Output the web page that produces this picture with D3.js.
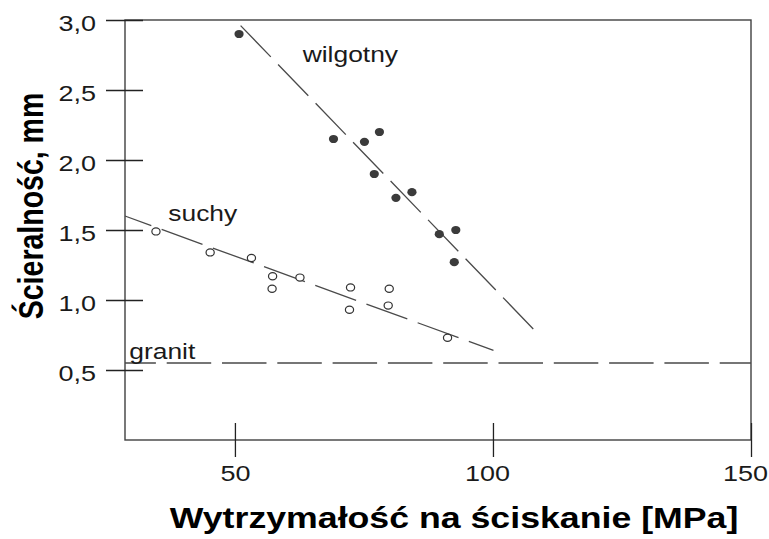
<!DOCTYPE html>
<html>
<head>
<meta charset="utf-8">
<script src="https://d3js.org/d3.v7.min.js"></script>
<style>
  body { margin: 0; background: #fff; }
  text { font-family: "Liberation Sans", Arial, sans-serif; fill: #1a1a1a; }
</style>
</head>
<body>
<div id="my_dataviz"></div>
<script>
// wet samples (filled dots)
var wet_x = [50.8, 69.1, 75.1, 78.0, 77.0, 81.2, 84.3, 89.6, 92.8, 92.5];
var wet_y = [2.90, 2.15, 2.13, 2.20, 1.90, 1.73, 1.77, 1.47, 1.50, 1.27];

// dry samples (open dots)
var dry_x = [34.7, 45.2, 53.2, 57.3, 57.2, 62.6, 72.4, 72.2, 79.9, 79.7, 91.2];
var dry_y = [1.49, 1.34, 1.30, 1.17, 1.08, 1.16, 1.09, 0.93, 1.08, 0.96, 0.73];

// trend lines
var wet_trend    = [[51.1, 2.96], [107.9, 0.79]];
var dry_trend    = [[28.7, 1.60], [100.1, 0.64]];
var granit_trend = [[28.7, 0.55], [150, 0.55]];

var x_ticks = [50, 100, 150];
var y_ticks = [0.5, 1.0, 1.5, 2.0, 2.5, 3.0];

var stretch = 1.2;   // the picture is a bit wider than tall

var svg = d3.select("#my_dataviz")
  .append("svg")
    .attr("width", 769)
    .attr("height", 539);

var x = d3.scaleLinear()
  .domain([28.7, 150])
  .range([125, 751]);

var y = d3.scaleLinear()
  .domain([0, 3])
  .range([440, 20]);

var fmt = d3.formatLocale({decimal: ",", thousands: " ", grouping: [3], currency: ["", ""]}).format(".1f");

// frame
svg.append("rect")
  .attr("x", x.range()[0])
  .attr("y", y.range()[1])
  .attr("width", x.range()[1] - x.range()[0])
  .attr("height", y.range()[0] - y.range()[1])
  .attr("fill", "none")
  .attr("stroke", "#404040")
  .attr("stroke-width", 1.4);

// Y axis
var yAxis = svg.append("g")
  .attr("transform", "translate(" + x.range()[0] + ",0)")
  .call(d3.axisLeft(y).tickValues(y_ticks).tickFormat(fmt).tickSize(19));
yAxis.select(".domain").remove();
yAxis.selectAll("line")
  .attr("x1", 18)
  .attr("stroke", "#222")
  .attr("stroke-width", 1.3);
yAxis.selectAll("text")
  .attr("x", null)
  .attr("dy", null)
  .attr("transform", "translate(-29,10.5) scale(" + stretch + ",1)")
  .style("font-size", "22.5px")
  .style("font-family", "'Liberation Sans', Arial, sans-serif")
  .attr("fill", "#1a1a1a");

// X axis
var xAxis = svg.append("g")
  .attr("transform", "translate(0," + y.range()[0] + ")")
  .call(d3.axisBottom(x).tickValues(x_ticks).tickFormat(d3.format("d")).tickSize(17));
xAxis.select(".domain").remove();
xAxis.selectAll("line")
  .attr("y1", -17)
  .attr("stroke", "#222")
  .attr("stroke-width", 1.3);
xAxis.selectAll("text")
  .attr("y", null)
  .attr("dy", null)
  .attr("transform", function(d) { return "translate(" + (d >= 100 ? -6 : 0) + ",41) scale(" + stretch + ",1)"; })
  .style("font-size", "22.5px")
  .style("font-family", "'Liberation Sans', Arial, sans-serif")
  .attr("fill", "#1a1a1a");

// dashed trend lines
var line = d3.line()
  .x(function(d) { return x(d[0]); })
  .y(function(d) { return y(d[1]); });

function trend(pts, dash, offset) {
  svg.append("path")
    .datum(pts)
    .attr("d", line)
    .attr("fill", "none")
    .attr("stroke", "#4a4a4a")
    .attr("stroke-width", 1.3)
    .attr("stroke-dasharray", dash)
    .attr("stroke-dashoffset", offset);
}
trend(wet_trend, "43.5,10.5", 0);
trend(dry_trend, "43.5,11", 15.5);
trend(granit_trend, "44.5,10.8", 13.6);

// points
svg.selectAll(".wet")
  .data(d3.zip(wet_x, wet_y))
  .enter()
  .append("ellipse")
    .attr("class", "wet")
    .attr("cx", function(d) { return x(d[0]); })
    .attr("cy", function(d) { return y(d[1]); })
    .attr("rx", 4.6)
    .attr("ry", 4.1)
    .attr("fill", "#3b3b3b");

svg.selectAll(".dry")
  .data(d3.zip(dry_x, dry_y))
  .enter()
  .append("ellipse")
    .attr("class", "dry")
    .attr("cx", function(d) { return x(d[0]); })
    .attr("cy", function(d) { return y(d[1]); })
    .attr("rx", 4.1)
    .attr("ry", 3.6)
    .attr("fill", "#fff")
    .attr("stroke", "#333")
    .attr("stroke-width", 1.2);

// series labels
function label(txt, px, py) {
  svg.append("text")
    .attr("transform", "translate(" + px + "," + py + ") scale(" + stretch + ",1)")
    .style("font-size", "22px")
    .text(txt);
}
label("wilgotny", 302.7, 62);
label("suchy", 168.3, 220.7);
label("granit", 129.3, 359);

// axis titles
svg.append("text")
  .attr("transform", "translate(454,528) scale(1.21,1)")
  .attr("text-anchor", "middle")
  .style("font-size", "29.5px")
  .style("font-weight", "bold")
  .style("fill", "#000")
  .text("Wytrzymałość na ściskanie [MPa]");

svg.append("text")
  .attr("transform", "translate(43,206) rotate(-90) scale(1," + stretch + ")")
  .attr("text-anchor", "middle")
  .style("font-size", "28.5px")
  .style("font-weight", "bold")
  .style("fill", "#000")
  .text("Ścieralność, mm");
</script>
</body>
</html>
